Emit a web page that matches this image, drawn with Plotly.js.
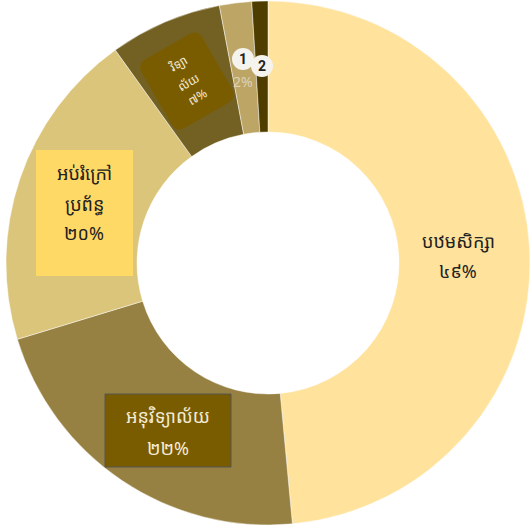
<!DOCTYPE html>
<html><head><meta charset="utf-8">
<script src="https://cdn.plot.ly/plotly-3.0.1.min.js"></script>
<style>html,body{margin:0;padding:0;background:#fff}#c{width:530px;height:529px}</style></head>
<body><div id="c"></div>
<script>
const categories=["បឋមសិក្សា","អនុវិទ្យាល័យ","អប់រំក្រៅប្រព័ន្ធ","វិទ្យាល័យ","a","b"];
const shares=[49,22,20,7,2,1];
const sliceColors=["#FFE29B","#978142","#DBC57B","#736123","#BDA565","#4F3D00"];
const W=530,H=529;
const px=x=>x/W, py=y=>1-y/H;
const font='"Noto Sans","Noto Sans Khmer","Khmer OS",sans-serif';
function roundedRot(cx,cy,w,h,r,deg){
  const a=deg*Math.PI/180,c=Math.cos(a),s=Math.sin(a);
  const P=(x,y)=>`${(cx+x*c-y*s)/W} ${1-(cy+x*s+y*c)/H}`;
  const hw=w/2,hh=h/2;
  return `M ${P(-hw+r,-hh)} L ${P(hw-r,-hh)} Q ${P(hw,-hh)} ${P(hw,-hh+r)} L ${P(hw,hh-r)} Q ${P(hw,hh)} ${P(hw-r,hh)} L ${P(-hw+r,hh)} Q ${P(-hw,hh)} ${P(-hw,hh-r)} L ${P(-hw,-hh+r)} Q ${P(-hw,-hh)} ${P(-hw+r,-hh)} Z`;
}
function circle(cx,cy,r,fill){return {type:'circle',xref:'paper',yref:'paper',x0:px(cx-r),x1:px(cx+r),y0:py(cy+r),y1:py(cy-r),fillcolor:fill,line:{width:0}};}
function rect(x0,y0,x1,y1,fill,line){return {type:'rect',xref:'paper',yref:'paper',x0:px(x0),x1:px(x1),y0:py(y1),y1:py(y0),fillcolor:fill,line:line||{width:0}};}
const ann=(x,y,text,o)=>Object.assign({xref:'paper',yref:'paper',x:px(x),y:py(y),text,showarrow:false,xanchor:'center',yanchor:'middle',font:{family:font,size:18,color:'#222'}},o||{});
const light={family:font,size:18,color:'#F3EBD6'};
const small={family:font,size:12,color:'#F3EBD6'};
Plotly.newPlot('c',[{
  type:'pie',labels:categories,values:shares,sort:false,direction:'clockwise',rotation:0,hole:0.5,
  marker:{colors:sliceColors,line:{color:'rgba(255,255,255,0.45)',width:1}},textinfo:'none',hoverinfo:'none',showlegend:false,
  domain:{x:[6/W,530/W],y:[4/H,528/H]}
}],{
  width:W,height:H,margin:{l:0,r:0,t:0,b:0},paper_bgcolor:'#fff',showlegend:false,
  shapes:[
    rect(105,394,231,467,'#7A5C00',{color:'#555',width:1}),
    rect(36,150,133,276,'#FFD966'),
    {type:'path',xref:'paper',yref:'paper',path:roundedRot(187,81,70,79,10,-30),fillcolor:'#7A5C00',line:{width:0}},
    circle(243,59,11,'#F5F3EE'),circle(262,66,11,'#F5F3EE')
  ],
  annotations:[
    ann(458,241,'បឋមសិក្សា'),ann(458,271,'៤៩%'),
    ann(168,416,'អនុវិទ្យាល័យ',{font:light}),ann(168,448,'២២%',{font:light}),
    ann(84,173,'អប់រំក្រៅ'),ann(84,204,'ប្រព័ន្ធ'),ann(84,233,'២០%'),
    ann(178,63,'វិទ្យា',{textangle:-30,font:small}),
    ann(188,82,'ល័យ',{textangle:-30,font:small}),
    ann(198,97,'៧%',{textangle:-30,font:small}),
    ann(243,81,'2%',{font:{family:font,size:14,color:'#DDD3B4'}}),
    ann(243,59,'<b>1</b>',{font:{family:'Roboto',size:14,color:'#222'}}),
    ann(262,66,'<b>2</b>',{font:{family:'Roboto',size:14,color:'#222'}})
  ]
},{displayModeBar:false,staticPlot:true});
</script></body></html>
